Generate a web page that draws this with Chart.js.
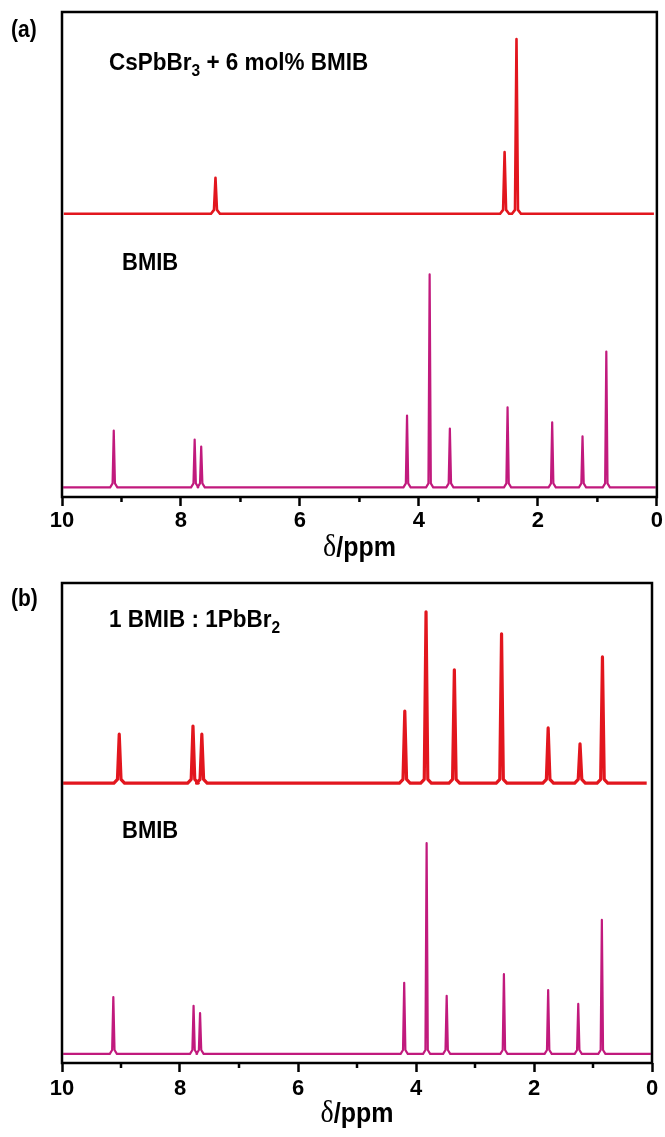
<!DOCTYPE html>
<html>
<head>
<meta charset="utf-8">
<script src="https://cdn.jsdelivr.net/npm/chart.js@4.4.1/dist/chart.umd.min.js"></script>
<style>
  html, body { margin: 0; padding: 0; background: #fff; }
  canvas { display: block; }
</style>
</head>
<body>
<canvas id="panel_a" width="665" height="568"></canvas>
<canvas id="panel_b" width="665" height="569"></canvas>
<script>
// 1H NMR peaks: chemical shift (ppm) and height above the trace's own baseline
const minor_ticks = [9, 7, 5, 3, 1];

const shifts_a_red = [7.42, 2.56, 2.36];
const heights_a_red = [7.4, 12.7, 36.0];
const base_a_red = 58.4;

const shifts_bmib = [9.13, 7.77, 7.66, 4.20, 3.82, 3.48, 2.51, 1.76, 1.25, 0.85];
const heights_a_bmib = [11.7, 9.85, 8.4, 14.8, 43.9, 12.1, 16.5, 13.4, 10.5, 28.0];
const base_a_bmib = 2.0;

const shifts_b_red = [9.03, 7.78, 7.63, 4.19, 3.83, 3.35, 2.55, 1.76, 1.22, 0.84];
const heights_b_red = [10.2, 11.9, 10.2, 15.0, 35.7, 23.6, 31.1, 11.5, 8.2, 26.3];
const base_b_red = 58.3;

const heights_b_bmib = [11.85, 10.0, 8.5, 14.8, 43.9, 12.1, 16.6, 13.3, 10.4, 27.9];
const base_b_bmib = 1.9;

const RED = "#e2161e";
const MAGENTA = "#c11a7d";

// turn a peak list into line points, sweeping from high to low ppm
const stick_trace = (shifts, heights, base, hw, from, to) => {
    const pts = [{ x: from, y: base }];
    shifts.forEach((s, i) => {
        pts.push({ x: s + hw * 3, y: base });
        pts.push({ x: s + hw, y: base + 0.8 });
        pts.push({ x: s, y: base + heights[i] });
        pts.push({ x: s - hw, y: base + 0.8 });
        pts.push({ x: s - hw * 3, y: base });
    });
    pts.push({ x: to, y: base });
    return pts;
};

// text runs drawn side by side, slightly stretched vertically
const draw_parts = (ctx, parts, x, y, sy = 1.1) => {
    ctx.textBaseline = "alphabetic";
    ctx.textAlign = "left";
    parts.forEach((p) => {
        ctx.font = p.font;
        ctx.save();
        ctx.translate(x, y + (p.dy || 0));
        ctx.scale(1, sy);
        ctx.fillText(p.text, 0, 0);
        ctx.restore();
        x += ctx.measureText(p.text).width;
    });
};

const BOLD = (px) => `bold ${px}px 'Liberation Sans', Arial, sans-serif`;

const frame_plugin = {
    id: "frame",
    afterDraw(chart, args, opts) {
        const { ctx, chartArea: a } = chart;
        const xs = chart.scales.x;
        ctx.save();
        ctx.strokeStyle = "#000";
        ctx.lineWidth = 2.5;
        ctx.strokeRect(a.left, a.top, a.right - a.left, a.bottom - a.top);

        // short minor ticks between the labelled ones
        minor_ticks.forEach((v) => {
            const px = xs.getPixelForValue(v);
            ctx.beginPath();
            ctx.moveTo(px, a.bottom);
            ctx.lineTo(px, a.bottom + 5);
            ctx.stroke();
        });

        ctx.fillStyle = "#000";
        // axis title: serif delta, bold sans unit
        const delta_font = "28px 'Liberation Serif', 'Times New Roman', serif";
        const unit_font = BOLD(25);
        ctx.font = delta_font;
        const w1 = ctx.measureText("\u03B4").width;
        ctx.font = unit_font;
        const w2 = ctx.measureText("/ppm").width;
        const cx = (a.left + a.right) / 2;
        draw_parts(ctx, [
            { text: "\u03B4", font: delta_font },
            { text: "/ppm", font: unit_font },
        ], cx - (w1 + w2) / 2, a.bottom + 59, 1.1);

        // panel letter
        draw_parts(ctx, [{ text: opts.letter, font: BOLD(21) }], 11, a.top + opts.letterDy);

        opts.labels.forEach((l) => draw_parts(ctx, l.parts, l.x, l.y));
        ctx.restore();
    },
};

const make_panel = (canvas_id, cfg) => {
    const ctx = document.getElementById(canvas_id).getContext("2d");
    return new Chart(ctx, {
        type: "line",
        data: {
            datasets: [
                {
                    data: cfg.top_trace,
                    borderColor: RED,
                    borderWidth: cfg.red_width,
                },
                {
                    data: cfg.bottom_trace,
                    borderColor: MAGENTA,
                    borderWidth: 2.2,
                },
            ],
        },
        options: {
            responsive: false,
            animation: false,
            events: [],
            parsing: false,
            layout: { padding: { left: 62, right: cfg.pad_right, top: cfg.pad_top, bottom: 0 } },
            plugins: {
                legend: { display: false },
                tooltip: { enabled: false },
                frame: cfg.frame,
            },
            elements: {
                point: { radius: 0 },
                line: { tension: 0, borderJoinStyle: "round", fill: false },
            },
            scales: {
                x: {
                    type: "linear",
                    reverse: true,
                    min: 0,
                    max: 10,
                    afterFit: (s) => { s.height = cfg.axis_height; },
                    grid: {
                        drawOnChartArea: false,
                        drawTicks: true,
                        tickLength: 9,
                        tickWidth: 2.5,
                        tickColor: "#000",
                    },
                    border: { display: false },
                    ticks: {
                        stepSize: 2,
                        color: "#000",
                        font: { family: "'Liberation Sans', Arial, sans-serif", size: 22, weight: "bold" },
                        padding: cfg.tick_pad,
                        maxRotation: 0,
                        autoSkip: false,
                    },
                },
                y: { display: false, min: 0, max: 100 },
            },
        },
        plugins: [frame_plugin],
    });
};

make_panel("panel_a", {
    top_trace: stick_trace(shifts_a_red, heights_a_red, base_a_red, 0.025, 9.97, 0.05),
    bottom_trace: stick_trace(shifts_bmib, heights_a_bmib, base_a_bmib, 0.02, 9.98, 0.02),
    red_width: 2.6,
    pad_right: 8,
    pad_top: 12,
    axis_height: 71,
    tick_pad: 2,
    frame: {
        letter: "(a)",
        letterDy: 25,
        labels: [
            {
                x: 109, y: 70,
                parts: [
                    { text: "CsPbBr", font: BOLD(22.5) },
                    { text: "3", font: BOLD(15.5), dy: 6 },
                    { text: " + 6 mol% BMIB", font: BOLD(22.5) },
                ],
            },
            { x: 122, y: 270, parts: [{ text: "BMIB", font: BOLD(22) }] },
        ],
    },
});

make_panel("panel_b", {
    top_trace: stick_trace(shifts_b_red, heights_b_red, base_b_red, 0.03, 9.98, 0.09),
    bottom_trace: stick_trace(shifts_bmib, heights_b_bmib, base_b_bmib, 0.02, 9.98, 0.02),
    red_width: 3.2,
    pad_right: 13,
    pad_top: 15,
    axis_height: 74,
    tick_pad: 4,
    frame: {
        letter: "(b)",
        letterDy: 23,
        labels: [
            {
                x: 109, y: 627 - 568,
                parts: [
                    { text: "1 BMIB : 1PbBr", font: BOLD(22.5) },
                    { text: "2", font: BOLD(15.5), dy: 6 },
                ],
            },
            { x: 122, y: 838 - 568, parts: [{ text: "BMIB", font: BOLD(22) }] },
        ],
    },
});
</script>
</body>
</html>
